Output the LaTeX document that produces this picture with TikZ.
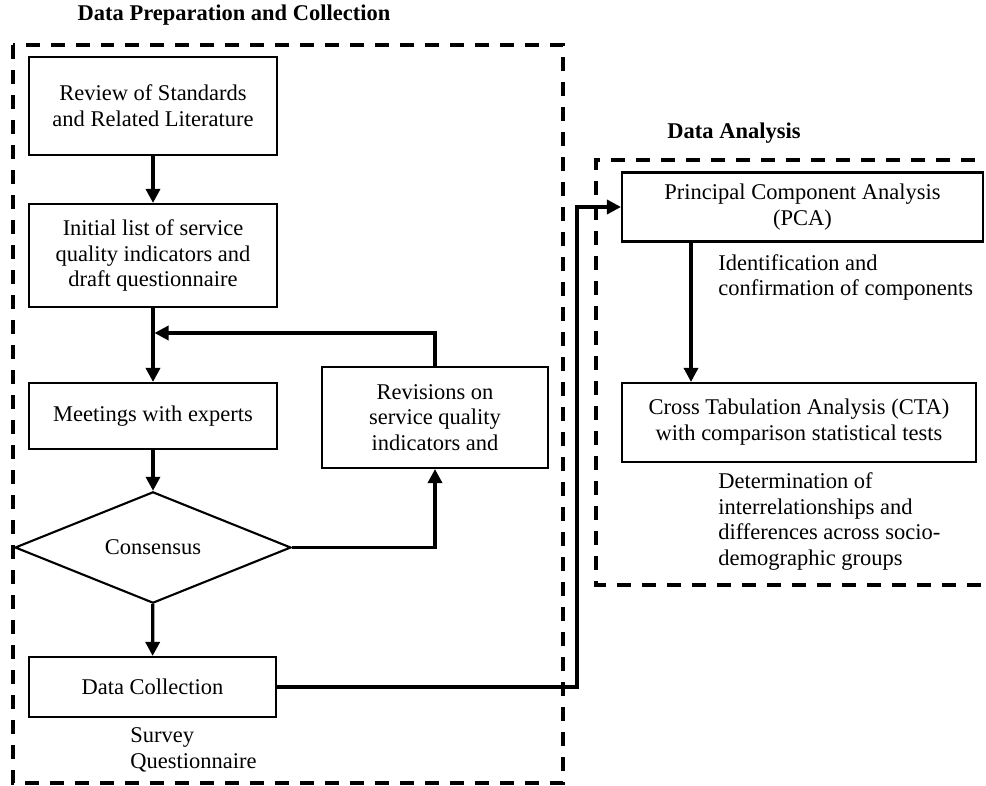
\documentclass[tikz,border=0pt]{standalone}
\usepackage{fontspec}
\setmainfont{Liberation Serif}
\usetikzlibrary{shapes.geometric,arrows.meta}
\newcommand\bodyfont{\fontsize{12.8}{14.7}\selectfont}
\tikzset{
  box/.style={draw,line width=1.2pt,align=center,inner sep=0pt},
  conn/.style={line width=1.9pt,-{Triangle[length=0.28cm,width=0.28cm]}},
  frame/.style={line width=1.8pt,dash pattern=on 0.28cm off 0.22cm},
  note/.style={align=left,inner sep=0pt,anchor=west},
  ttl/.style={font=\bodyfont\bfseries,inner sep=0pt}
}
\begin{document}
\begin{tikzpicture}[x=0.02cm,y=-0.02cm,font=\bodyfont]
\useasboundingbox(0,0)rectangle(986,786);
\draw[frame](13,45)rectangle(563,783);
\draw[frame](1000,160)--(596,160)--(596,585)--(1000,585);
\node[ttl](ttlprep)at(234,15){Data Preparation and Collection};
\node[ttl](ttlana)at(734,133){Data Analysis};
\node[box,minimum width=4.96cm,minimum height=1.96cm](review)at(153,106){Review of Standards\\and Related Literature};
\node[box,minimum width=4.96cm,minimum height=2.06cm](initial)at(153,255.5){Initial list of service\\quality indicators and\\draft questionnaire};
\node[box,minimum width=4.96cm,minimum height=1.32cm](meet)at(153,416){Meetings with experts};
\node[draw,line width=1.2pt,diamond,inner sep=0pt,minimum width=5.52cm,minimum height=2.02cm](cons)at(153,547.5){Consensus};
\node[box,minimum width=4.52cm,minimum height=2.02cm](revise)at(435,417.5){Revisions on\\service quality\\indicators and};
\node[box,minimum width=4.94cm,minimum height=1.2cm](collect)at(152.5,687){Data Collection};
\node[note](survey)at(130,750){Survey\\Questionnaire};
\node[box,minimum width=7.22cm,minimum height=1.38cm](pca)at(802.5,207){Principal Component Analysis\\(PCA)};
\node[box,minimum width=7.08cm,minimum height=1.58cm](cta)at(799,422.5){Cross Tabulation Analysis (CTA)\\with comparison statistical tests};
\node[note](ident)at(718,277.5){Identification and\\confirmation of components};
\node[note](determ)at(718,521.5){Determination of\\interrelationships and\\differences across socio-\\demographic groups};
\coordinate(join)at(154.5,333);
\coordinate(bus)at(577,0);
\coordinate(down)at(691,0);
\draw[conn](review)--(initial);
\draw[conn](initial)--(meet);
\draw[conn](revise.north)|-(join);
\draw[conn](meet)--(cons);
\draw[conn](cons.east)-|(revise.south);
\draw[conn](cons)--(collect);
\draw[conn](collect.east)-|(bus|-pca.west)--(pca.west);
\draw[conn](pca.south-|down)--(cta.north-|down);
\end{tikzpicture}
\end{document}
